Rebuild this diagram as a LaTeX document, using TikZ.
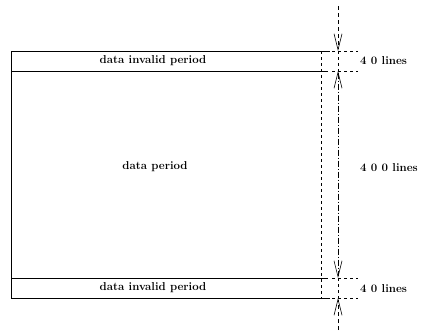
\documentclass[tikz,border=0pt]{standalone}
\usetikzlibrary{arrows.meta}
\begin{document}
\begin{tikzpicture}[x=1bp,y=-1bp,
  edge/.style={line width=0.9bp},
  ext/.style={line width=0.6bp,dash pattern=on 3bp off 3bp},
  dimline/.style={line width=0.6bp,dash pattern=on 6bp off 2bp on 1bp off 2bp},
  dimarrow/.style={line width=0.6bp,-{Straight Barb[length=16bp,width=8bp]}},
  lbl/.style={font=\fontsize{11.5}{13}\selectfont\bfseries,inner sep=0pt},
  dlbl/.style={font=\fontsize{11.5}{13}\selectfont\bfseries,inner sep=0pt,anchor=west}]
\useasboundingbox (0,0) rectangle (433,335);
% corners
\coordinate (tl) at (11,51);
\coordinate (tr) at (330,51);
\coordinate (ml) at (11,71);
\coordinate (mr) at (328,71);
\coordinate (bl) at (11,278);
\coordinate (br) at (328,278);
\coordinate (ll) at (11,298);
\coordinate (lr) at (330,298);
\coordinate (rt) at (321,51);
\coordinate (rb) at (321,298);
% rectangle
\draw[edge] (tl) -- (tr);
\draw[edge] (ml) -- (mr);
\draw[edge] (bl) -- (br);
\draw[edge] (ll) -- (lr);
\draw[edge] (tl) -- (ll);
\draw[ext] (rt) -- (rb);
% texts
\node[lbl] (t1) at (153,61) {data invalid period};
\node[lbl] (t2) at (155,167) {data period};
\node[lbl] (t3) at (153,288) {data invalid period};
% dimension
\coordinate (d0) at (338,6);
\coordinate (d1) at (338,51);
\coordinate (d2) at (338,71);
\coordinate (d3) at (338,278);
\coordinate (d4) at (338,298);
\coordinate (d5) at (338,330);
\coordinate (e1a) at (332,51); \coordinate (e1b) at (358,51);
\coordinate (e2a) at (332,71); \coordinate (e2b) at (358,71);
\coordinate (e3a) at (332,278); \coordinate (e3b) at (358,278);
\coordinate (e4a) at (332,298); \coordinate (e4b) at (358,298);
\draw[ext] (e1a) -- (e1b);
\draw[ext] (e2a) -- (e2b);
\draw[ext] (e3a) -- (e3b);
\draw[ext] (e4a) -- (e4b);
\draw[dimarrow,dash pattern=on 4bp off 3bp] (d0) -- (d1);
\draw[ext] (d1) -- (d2);
\draw[dimline,{Straight Barb[length=16bp,width=8bp]}-{Straight Barb[length=16bp,width=8bp]}] (d2) -- (d3);
\draw[ext] (d3) -- (d4);
\draw[dimarrow,dash pattern=on 4bp off 3bp] (d5) -- (d4);
\node[dlbl] (l1) at (360,61) {4 0 lines};
\node[dlbl] (l2) at (360,168) {4 0 0 lines};
\node[dlbl] (l3) at (360,289) {4 0 lines};
\end{tikzpicture}
\end{document}
